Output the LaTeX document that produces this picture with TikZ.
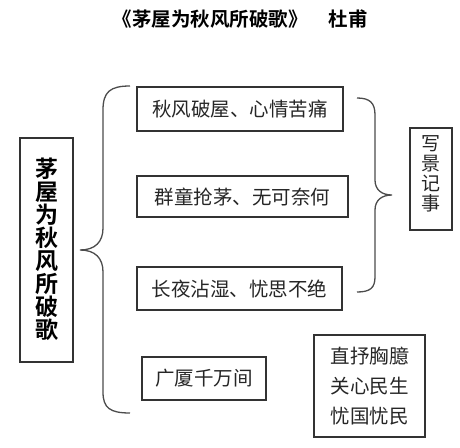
\documentclass[tikz,border=0pt]{standalone}
\usepackage{fontspec}
\newfontfamily\cjk{Noto Sans CJK SC}[BoldFont={Noto Sans CJK SC Bold}]
\begin{document}
\begin{tikzpicture}[x=1pt,y=-1pt,
  frame/.style={draw=black!80,line width=1.4pt,rectangle,inner sep=0pt,font=\cjk\fontsize{19.5}{22}\selectfont,text=black!85},
  brace/.style={draw=black!70,line width=1.3pt}]
\useasboundingbox[fill=white] (0,0) rectangle (460,447);
\node[font=\cjk\bfseries\fontsize{19.5}{20}\selectfont] (title) at (210,19) {《茅屋为秋风所破歌》};
\node[font=\cjk\bfseries\fontsize{19.5}{20}\selectfont] (author) at (348,19) {杜甫};
\node[frame,minimum width=53pt,minimum height=224pt] (main) at (46.5,250) {};
\node[font=\cjk\bfseries\fontsize{23}{23}\selectfont,align=center] (maintext) at (46.5,249) {茅\\屋\\为\\秋\\风\\所\\破\\歌};
\node[frame,minimum width=206pt,minimum height=44pt] (b1) at (240,109) {秋风破屋、心情苦痛};
\node[frame,minimum width=211pt,minimum height=41pt] (b2) at (242.5,196.5) {群童抢茅、无可奈何};
\node[frame,minimum width=205pt,minimum height=43pt] (b3) at (239.5,288.5) {长夜沾湿、忧思不绝};
\node[frame,minimum width=124pt,minimum height=43pt] (b4) at (204,378.5) {广厦千万间};
\node[frame,minimum width=111pt,minimum height=102pt,align=center,font=\cjk\fontsize{19.5}{30}\selectfont] (b5) at (369.5,386) {直抒胸臆\\关心民生\\忧国忧民};
\node[frame,minimum width=42pt,minimum height=102pt] (side) at (431,179) {};
\node[font=\cjk\fontsize{19}{20}\selectfont,align=center,text=black!85] (sidetext) at (431,174) {写\\景\\记\\事};
% left brace
\draw[brace] (130,86) .. controls (110,86) and (103,92) .. (103,110) -- (103,228)
  .. controls (103,242) and (95,250) .. (80,250)
  .. controls (95,250) and (103,258) .. (103,272) -- (103,392)
  .. controls (103,408) and (110,413) .. (130,413);
% right brace
\draw[brace] (357,98) .. controls (370,98) and (375,103) .. (375,115) -- (375,180)
  .. controls (375,190) and (382,195) .. (392,195)
  .. controls (382,195) and (375,200) .. (375,210) -- (375,277)
  .. controls (375,288) and (370,292) .. (357,292);
\end{tikzpicture}
\end{document}
